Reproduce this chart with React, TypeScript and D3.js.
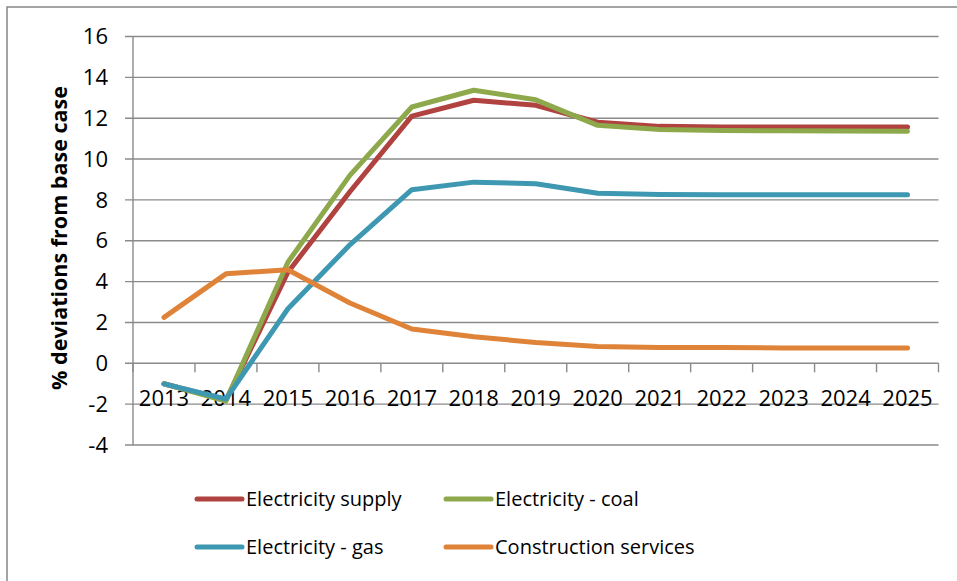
import React from "react";
import * as d3 from "d3";

const years = ["2013","2014","2015","2016","2017","2018","2019","2020","2021","2022","2023","2024","2025"];
const electricitySupply = [-1.0, -1.8, 4.46, 8.4, 12.1, 12.88, 12.63, 11.8, 11.6, 11.57, 11.57, 11.57, 11.57];
const electricityCoal = [-1.0, -1.85, 4.95, 9.2, 12.55, 13.37, 12.9, 11.65, 11.45, 11.4, 11.38, 11.37, 11.36];
const electricityGas = [-1.01, -1.75, 2.67, 5.8, 8.5, 8.87, 8.79, 8.33, 8.27, 8.25, 8.25, 8.25, 8.25];
const constructionServices = [2.25, 4.38, 4.58, 2.95, 1.68, 1.3, 1.02, 0.82, 0.77, 0.77, 0.75, 0.75, 0.75];
const yTicks = [-4, -2, 0, 2, 4, 6, 8, 10, 12, 14, 16];

const seriesList = [
  { name: "Electricity supply", values: electricitySupply, color: "#B0423F" },
  { name: "Electricity - coal", values: electricityCoal, color: "#8DA94B" },
  { name: "Electricity - gas", values: electricityGas, color: "#3E98B1" },
  { name: "Construction services", values: constructionServices, color: "#DF8339" },
];

const W = 957, H = 581;
const FONT = "'Open Sans', 'Liberation Sans', sans-serif";

export default function App() {
  const x = d3.scaleBand<string>().domain(years).range([133, 938.5]);
  const y = d3.scaleLinear().domain([-4, 16]).range([445, 36.5]);
  const line = d3.line<number>()
    .x((_, i) => (x(years[i]) as number) + x.bandwidth() / 2)
    .y((d) => y(d));
  const grid = "#8a8a8a";
  const tickXs = d3.range(years.length + 1).map((i) => 133 + i * x.bandwidth());
  return (
    <svg width={W} height={H} style={{ position: "absolute", left: 0, top: 0, background: "#fff" }} fontFamily={FONT}>
      <rect x={7} y={7} width={W + 10} height={H + 10} fill="#fff" stroke="#878787" strokeWidth={1.5} />
      {yTicks.map((t) => (
        <g key={t}>
          <line x1={125} x2={938.5} y1={y(t)} y2={y(t)} stroke={grid} strokeWidth={1.4} />
          <text x={108} y={y(t)} dy="0.35em" textAnchor="end" fontSize={22} fill="#000">{t}</text>
        </g>
      ))}
      <line x1={133} x2={133} y1={y(16)} y2={y(-4)} stroke={grid} strokeWidth={1.4} />
      {tickXs.map((tx, i) => (
        <line key={i} x1={tx} x2={tx} y1={y(0)} y2={y(0) + 9} stroke={grid} strokeWidth={1.4} />
      ))}
      {years.map((yr) => (
        <text key={yr} x={(x(yr) as number) + x.bandwidth() / 2} y={406} textAnchor="middle" fontSize={22} fill="#000">{yr}</text>
      ))}
      <text transform={`translate(67, 238) rotate(-90)`} textAnchor="middle" fontSize={21.5} fontWeight="bold" fill="#000">% deviations from base case</text>
      {seriesList.map((s) => (
        <path key={s.name} d={line(s.values) || ""} fill="none" stroke={s.color} strokeWidth={5} strokeLinejoin="round" strokeLinecap="round" />
      ))}
      {seriesList.map((s, i) => {
        const col = i % 2, row = Math.floor(i / 2);
        const lx = col === 0 ? 197 : 446;
        const ly = row === 0 ? 499 : 547;
        return (
          <g key={s.name}>
            <line x1={lx} x2={lx + 45} y1={ly} y2={ly} stroke={s.color} strokeWidth={5} strokeLinecap="round" />
            <text x={lx + 49} y={ly} dy="0.35em" fontSize={20} fill="#000">{s.name}</text>
          </g>
        );
      })}
    </svg>
  );
}
